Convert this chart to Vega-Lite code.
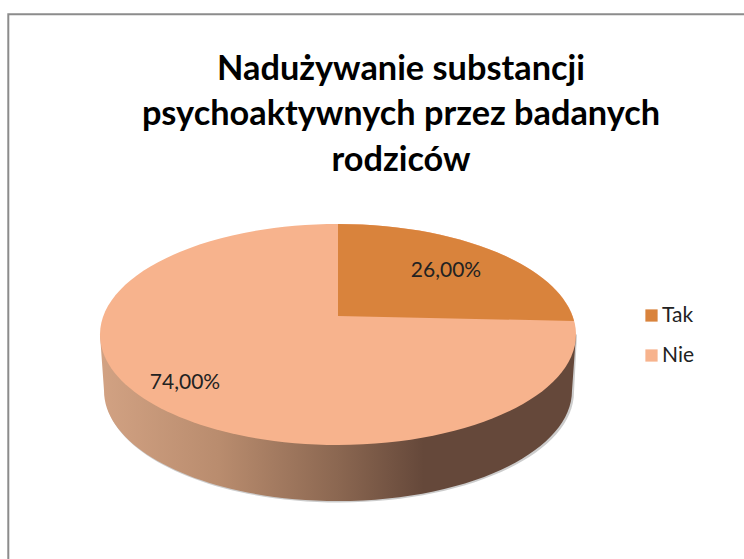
{
  "$schema": "https://vega.github.io/schema/vega-lite/v6.json",
  "width": 744,
  "height": 559,
  "autosize": {"type": "none"},
  "padding": 0,
  "background": "white",
  "view": {"stroke": null},
  "title": {
    "text": ["Nadużywanie substancji", "psychoaktywnych przez badanych", "rodziców"],
    "font": "Lato", "fontSize": 34.3, "fontWeight": "bold", "color": "#000000",
    "anchor": "start", "align": "center", "frame": "group", "offset": -190, "dx": 401, "dy": -12, "lineHeight": 45.5
  },
  "data": {"values": [
    {"odpowiedz": "Tak", "procent": 26},
    {"odpowiedz": "Nie", "procent": 74}
  ]},
  "transform": [{"calculate": "replace(format(datum.procent, '.2f'), '.', ',') + '%'", "as": "etykieta"}],
  "layer": [
    {
      "transform": [{"filter": "datum.odpowiedz === 'Nie'"}],
      "mark": {"type": "point", "filled": false, "size": 4, "opacity": 1, "stroke": "#8c8c8c", "strokeWidth": 2, "fill": "transparent",
        "shape": "M-363.7,279.5 L-363.7,-265.2 L372,-265.2"},
      "encoding": {}
    },
    {
      "transform": [{"filter": "datum.odpowiedz === 'Nie'"}],
      "mark": {"type": "point", "filled": true, "size": 4, "opacity": 0.5, "fill": "#9a9a9a",
        "shape": "M-270,55 L-267,112.5 A234.5,110.5 0 0 0 202,112.5 L205,55 Z"},
      "encoding": {}
    },
    {
      "transform": [{"filter": "datum.odpowiedz === 'Nie'"}],
      "mark": {"type": "point", "filled": true, "size": 4, "opacity": 1,
        "shape": "M-272,55 L-268,111 A234,110.5 0 0 0 200,111 L204,55 Z",
        "fill": {"gradient": "linear", "x1": 0, "x2": 1, "y1": 0, "y2": 0, "stops": [
          {"offset": 0, "color": "#d2a283"},
          {"offset": 0.25, "color": "#b98c6e"},
          {"offset": 0.5, "color": "#8b6751"},
          {"offset": 0.68, "color": "#65483a"},
          {"offset": 1, "color": "#65483a"}
        ]}
      },
      "encoding": {}
    },
    {
      "mark": {"type": "point", "filled": true, "size": 4, "opacity": 1,
        "shape": "M-272,55 A238,110.5 0 1 1 204,55 A238,110.5 0 1 1 -272,55 Z"},
      "transform": [{"filter": "datum.odpowiedz === 'Nie'"}],
      "encoding": {
        "color": {"field": "odpowiedz", "type": "nominal", "sort": ["Tak", "Nie"],
          "scale": {"domain": ["Tak", "Nie"], "range": ["#d9833c", "#f7b38d"]},
          "legend": {"title": null, "orient": "none", "legendX": 641, "legendY": 305, "symbolType": "square", "symbolSize": 150, "labelFont": "Lato", "labelFontSize": 21, "labelColor": "#222222", "rowPadding": 18, "labelOffset": 0, "symbolOpacity": 1, "values": ["Tak", "Nie"]}
        }
      }
    },
    {
      "mark": {"type": "point", "filled": true, "size": 4, "opacity": 1,
        "shape": "M-34,36.5 L-34,-55.5 A238,110.5 0 0 1 202,41.5 Z"},
      "transform": [{"filter": "datum.odpowiedz === 'Tak'"}],
      "encoding": {
        "color": {"field": "odpowiedz", "type": "nominal", "legend": null}
      }
    },
    {
      "transform": [{"filter": "datum.odpowiedz === 'Tak'"}],
      "mark": {"type": "text", "font": "Lato", "fontSize": 21, "color": "#222222", "dx": 74, "dy": -9},
      "encoding": {"text": {"field": "etykieta"}}
    },
    {
      "transform": [{"filter": "datum.odpowiedz === 'Nie'"}],
      "mark": {"type": "text", "font": "Lato", "fontSize": 21, "color": "#222222", "dx": -187, "dy": 103},
      "encoding": {"text": {"field": "etykieta"}}
    }
  ]
}
